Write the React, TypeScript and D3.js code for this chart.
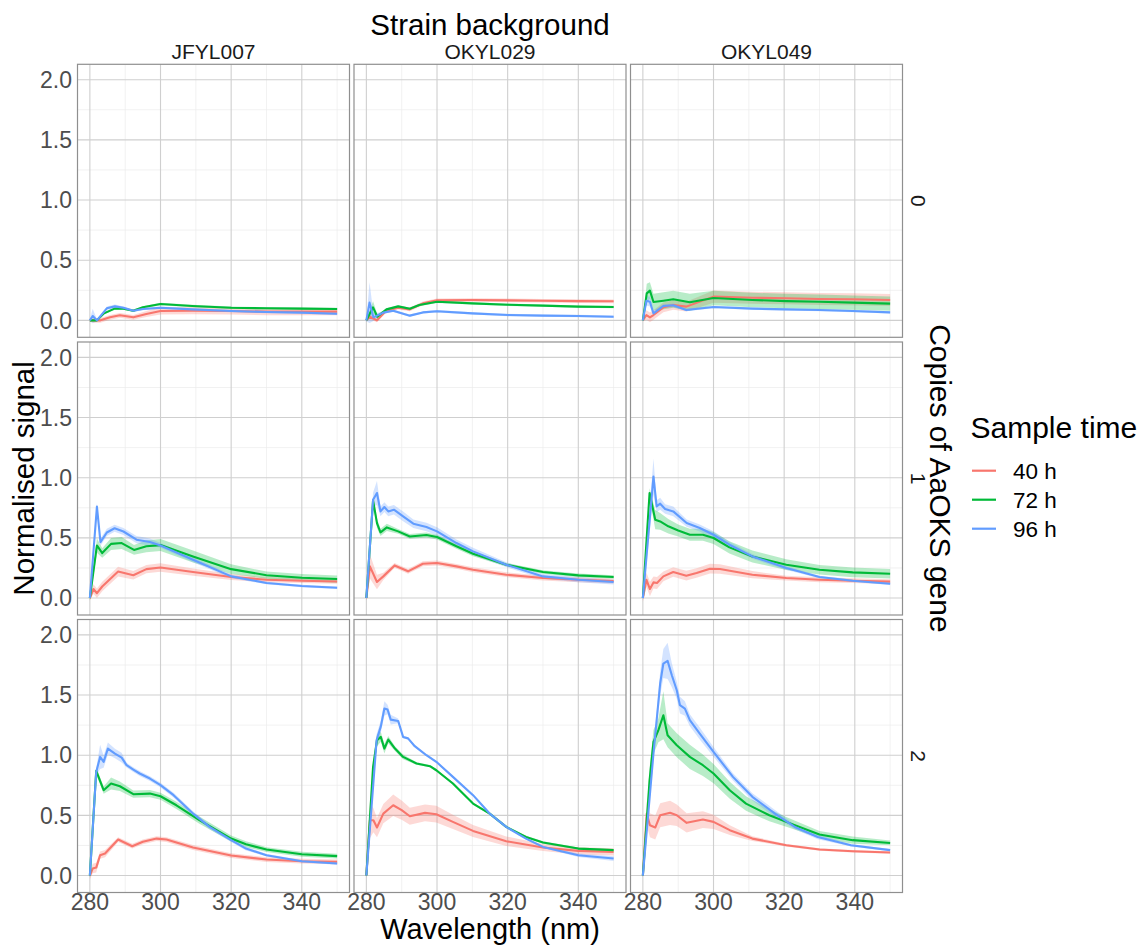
import React from "react";
import * as d3 from "d3";

// ---- data: [wavelength, mean, ribbon half-width] ----
const STRAINS = ["JFYL007", "OKYL029", "OKYL049"];
const COPIES = ["0", "1", "2"];
const TIMES = ["40 h", "72 h", "96 h"];
const COLORS = ["#F8766D", "#00BA38", "#619CFF"];
const X_TICKS = [280, 300, 320, 340];
const X_MINOR = [290, 310, 330, 350];
const Y_TICKS = [0, 0.5, 1.0, 1.5, 2.0];
const Y_MINOR = [0.25, 0.75, 1.25, 1.75];

const J0_40 = [[280,0,0.01],[281,0,0.02],[283,0,0.02],[285.7,0.025,0.02],[288.5,0.042,0.02],[292.3,0.025,0.02],[296,0.053,0.025],[300,0.078,0.03],[309,0.08,0.03],[320,0.078,0.03],[330,0.072,0.03],[340,0.072,0.03],[350,0.072,0.03]];
const J0_72 = [[280,0,0.01],[282,0,0.01],[284,0.058,0.01],[287,0.097,0.01],[289.5,0.097,0.01],[292.3,0.08,0.01],[295,0.108,0.01],[300,0.136,0.01],[309,0.119,0.01],[320,0.105,0.01],[330,0.1,0.01],[340,0.097,0.01],[350,0.094,0.01]];
const J0_96 = [[280,0,0.01],[280.8,0.036,0.06],[282,0,0.01],[284.8,0.1,0.015],[287.1,0.116,0.015],[289.5,0.105,0.01],[292.3,0.08,0.01],[295,0.094,0.01],[300,0.105,0.01],[309,0.091,0.01],[320,0.078,0.01],[330,0.069,0.01],[340,0.064,0.01],[350,0.055,0.01]];

const O29_0_40 = [[280,0,0.01],[281,0.03,0.02],[283,0,0.015],[285.6,0.08,0.015],[289,0.105,0.015],[292.3,0.091,0.015],[296,0.141,0.015],[300,0.166,0.015],[310,0.169,0.015],[320,0.166,0.015],[330,0.163,0.015],[340,0.16,0.015],[350,0.158,0.015]];
const O29_0_72 = [[280,0,0.01],[281.9,0.108,0.05],[283.1,0.03,0.02],[285.7,0.091,0.01],[289,0.116,0.01],[292.3,0.097,0.01],[295,0.127,0.01],[300,0.155,0.01],[310,0.141,0.01],[320,0.13,0.01],[330,0.122,0.01],[340,0.114,0.01],[350,0.111,0.01]];
const O29_0_96 = [[280,0,0.01],[280.9,0.147,0.17],[282,0.025,0.03],[284.8,0.064,0.01],[287.6,0.08,0.01],[292.3,0.039,0.01],[296,0.066,0.01],[300,0.075,0.01],[310,0.058,0.01],[320,0.044,0.01],[330,0.039,0.01],[340,0.036,0.01],[350,0.03,0.01]];

const O49_0_40 = [[280,0,0.01],[281,0.044,0.04],[282,0.025,0.04],[283,0.044,0.04],[285.8,0.108,0.04],[288.6,0.127,0.04],[292.3,0.114,0.04],[300,0.197,0.05],[311,0.188,0.05],[320.6,0.183,0.05],[330,0.177,0.05],[339.4,0.175,0.05],[350,0.169,0.05]];
const O49_0_72 = [[280,0,0.01],[281.1,0.224,0.08],[282,0.247,0.07],[283,0.152,0.07],[285.8,0.163,0.07],[288.6,0.175,0.07],[293.3,0.15,0.07],[300,0.186,0.06],[311,0.169,0.06],[320.6,0.16,0.06],[330,0.155,0.06],[339.4,0.147,0.06],[350,0.139,0.06]];
const O49_0_96 = [[280,0,0.01],[281,0.163,0.04],[282,0.155,0.04],[283,0.058,0.02],[285.8,0.119,0.015],[288.6,0.125,0.015],[292.3,0.086,0.01],[300,0.111,0.01],[311,0.097,0.01],[320.6,0.091,0.01],[330,0.086,0.01],[339.4,0.078,0.01],[350,0.066,0.01]];

const J1_40 = [[280,0,0.02],[281,0.075,0.04],[282,0.04,0.04],[283.5,0.096,0.04],[288,0.22,0.04],[292.3,0.19,0.035],[296,0.24,0.035],[300,0.254,0.035],[309.2,0.216,0.03],[320,0.175,0.025],[330,0.152,0.02],[340,0.144,0.02],[350,0.138,0.02]];
const J1_72 = [[280,0,0.02],[282,0.437,0.06],[283.5,0.374,0.04],[286,0.45,0.05],[289,0.457,0.05],[292.5,0.4,0.04],[296,0.43,0.05],[300,0.44,0.05],[309.2,0.346,0.05],[320,0.24,0.04],[330,0.19,0.03],[340,0.169,0.03],[350,0.158,0.03]];
const J1_96 = [[280,0,0.02],[282,0.76,0.03],[283,0.465,0.03],[284.8,0.545,0.03],[287,0.58,0.03],[289.5,0.553,0.03],[293.2,0.485,0.03],[297,0.465,0.03],[300,0.437,0.02],[309.2,0.318,0.02],[320,0.18,0.015],[330,0.125,0.01],[340,0.1,0.01],[350,0.086,0.01]];

const O29_1_40 = [[280,0,0.02],[281,0.263,0.1],[283,0.133,0.06],[284.8,0.18,0.03],[288,0.271,0.02],[291.8,0.222,0.02],[296,0.285,0.02],[300,0.291,0.02],[305.5,0.263,0.02],[310.2,0.235,0.02],[319.6,0.194,0.02],[330,0.166,0.02],[340,0.152,0.02],[350,0.141,0.02]];
const O29_1_72 = [[280,0,0.02],[281.9,0.812,0.03],[283,0.623,0.04],[284,0.546,0.03],[285.8,0.587,0.03],[289,0.554,0.02],[292.3,0.512,0.02],[297,0.524,0.02],[300,0.507,0.02],[305.5,0.43,0.02],[310.2,0.368,0.02],[319.6,0.277,0.015],[330,0.216,0.015],[340,0.188,0.015],[350,0.175,0.015]];
const O29_1_96 = [[280,0,0.02],[281.9,0.817,0.06],[283,0.873,0.1],[284,0.72,0.04],[285.1,0.756,0.04],[286.2,0.72,0.04],[287.8,0.734,0.04],[290.4,0.679,0.04],[293.3,0.618,0.035],[297,0.59,0.035],[300,0.554,0.035],[305.5,0.457,0.03],[310.2,0.388,0.03],[319.6,0.277,0.02],[330,0.18,0.02],[340,0.152,0.02],[350,0.133,0.02]];

const O49_1_40 = [[280,0,0.03],[281,0.152,0.06],[282,0.075,0.06],[283,0.13,0.05],[284,0.125,0.05],[285.8,0.18,0.04],[288.6,0.216,0.04],[292.3,0.186,0.04],[295.2,0.208,0.04],[299,0.244,0.04],[301.8,0.241,0.04],[311,0.194,0.03],[320.6,0.166,0.02],[330,0.152,0.02],[339.4,0.144,0.02],[350,0.136,0.02]];
const O49_1_72 = [[280,0,0.02],[281.9,0.873,0.04],[283.5,0.651,0.08],[284.9,0.637,0.07],[287.2,0.596,0.06],[290,0.562,0.05],[293.3,0.526,0.05],[297,0.526,0.05],[300,0.499,0.05],[304.5,0.421,0.05],[311,0.346,0.05],[320.6,0.277,0.045],[330,0.235,0.04],[339.4,0.213,0.04],[350,0.202,0.04]];
const O49_1_96 = [[280,0,0.02],[283,1.01,0.15],[283.9,0.762,0.05],[284.9,0.784,0.05],[286.3,0.74,0.04],[288.6,0.72,0.04],[292.4,0.623,0.03],[296.1,0.582,0.03],[300,0.526,0.03],[304.5,0.443,0.025],[311,0.346,0.02],[320.6,0.249,0.015],[330,0.175,0.01],[339.4,0.144,0.01],[350,0.119,0.01]];

const J2_40 = [[280,0,0.03],[280.8,0.058,0.04],[281.8,0.066,0.04],[282.9,0.169,0.03],[284.3,0.183,0.03],[288,0.299,0.02],[292,0.244,0.02],[295,0.28,0.02],[298.9,0.307,0.02],[301.7,0.299,0.02],[309.2,0.233,0.02],[320,0.166,0.02],[330,0.133,0.02],[340,0.119,0.02],[350,0.114,0.02]];
const J2_72 = [[280,0,0.02],[281.8,0.87,0.03],[283.9,0.709,0.03],[286,0.765,0.05],[288.5,0.742,0.04],[292.3,0.676,0.03],[297,0.681,0.03],[300,0.659,0.03],[304.5,0.584,0.03],[311,0.46,0.03],[320,0.307,0.025],[324.2,0.26,0.025],[330,0.216,0.02],[340,0.177,0.02],[350,0.161,0.02]];
const J2_96 = [[280,0,0.02],[281.8,0.861,0.03],[282.9,0.986,0.1],[283.9,0.945,0.05],[285.1,1.055,0.05],[287.1,1.014,0.04],[289,0.98,0.04],[290.4,0.917,0.02],[292.3,0.881,0.02],[294.1,0.848,0.02],[297,0.806,0.02],[300,0.751,0.02],[303.7,0.668,0.02],[309.2,0.515,0.02],[313.9,0.404,0.02],[320,0.294,0.015],[324.2,0.224,0.015],[330,0.169,0.01],[340,0.119,0.01],[350,0.1,0.01]];

const O29_2_40 = [[280,0,0.02],[281,0.46,0.15],[282,0.46,0.1],[283,0.399,0.08],[284.8,0.515,0.08],[287.6,0.584,0.09],[290,0.543,0.08],[292.3,0.493,0.07],[296.6,0.521,0.07],[299.8,0.51,0.07],[304.5,0.446,0.06],[310.2,0.371,0.05],[319.6,0.285,0.04],[330,0.233,0.03],[340,0.205,0.03],[350,0.197,0.03]];
const O29_2_72 = [[280,0,0.02],[281.9,0.903,0.04],[283,1.125,0.05],[284.1,1.152,0.04],[285.1,1.055,0.04],[286.2,1.13,0.03],[288.1,1.055,0.02],[290.4,0.986,0.02],[294.2,0.931,0.01],[298,0.909,0.01],[299.8,0.875,0.01],[304.5,0.765,0.01],[310.2,0.598,0.01],[314.9,0.515,0.01],[319.6,0.404,0.01],[325.2,0.321,0.01],[330,0.274,0.01],[340,0.224,0.01],[350,0.211,0.01]];
const O29_2_96 = [[280,0,0.02],[282.9,1.125,0.05],[284.1,1.24,0.05],[285.1,1.388,0.06],[286,1.38,0.04],[286.9,1.296,0.04],[289,1.285,0.02],[290.4,1.152,0.01],[291.8,1.14,0.01],[293.7,1.075,0.01],[297,1.0,0.01],[299.8,0.945,0.01],[304.5,0.82,0.01],[310.2,0.668,0.01],[314.9,0.515,0.01],[319.6,0.404,0.01],[325.2,0.307,0.01],[330,0.238,0.01],[340,0.169,0.015],[350,0.141,0.02]];

const O49_2_40 = [[280,0,0.02],[281.1,0.515,0.1],[282,0.418,0.1],[283.5,0.399,0.1],[284.9,0.501,0.1],[287.7,0.521,0.1],[289.6,0.501,0.09],[292.4,0.438,0.08],[297,0.465,0.07],[300,0.446,0.06],[304.6,0.377,0.04],[311,0.307,0.02],[320.6,0.252,0.01],[330,0.216,0.01],[339.4,0.202,0.01],[350,0.191,0.01]];
const O49_2_72 = [[280,0,0.02],[281.9,0.792,0.1],[283,1.11,0.1],[284.4,1.208,0.1],[285.8,1.332,0.2],[287,1.166,0.1],[289.6,1.083,0.1],[293.3,0.986,0.1],[297,0.917,0.09],[300,0.848,0.08],[304.6,0.709,0.07],[309.2,0.598,0.06],[315.8,0.501,0.05],[320.6,0.446,0.04],[330,0.341,0.03],[339.4,0.294,0.03],[350,0.271,0.02]];
const O49_2_96 = [[280,0,0.02],[283,1.014,0.05],[284.9,1.596,0.1],[285.8,1.762,0.12],[287,1.784,0.15],[288.2,1.665,0.1],[289.6,1.54,0.07],[290.5,1.416,0.07],[291.9,1.388,0.06],[293.3,1.291,0.05],[296.1,1.18,0.05],[300,1.028,0.04],[305.5,0.82,0.03],[311,0.654,0.03],[317.4,0.515,0.03],[323,0.404,0.02],[329.5,0.321,0.02],[338.9,0.252,0.01],[350,0.211,0.01]];

// rows = copies, columns = strains
const PANELS = [
  [[J0_40, J0_72, J0_96], [O29_0_40, O29_0_72, O29_0_96], [O49_0_40, O49_0_72, O49_0_96]],
  [[J1_40, J1_72, J1_96], [O29_1_40, O29_1_72, O29_1_96], [O49_1_40, O49_1_72, O49_1_96]],
  [[J2_40, J2_72, J2_96], [O29_2_40, O29_2_72, O29_2_96], [O49_2_40, O49_2_72, O49_2_96]],
];

const FONT = "'Liberation Sans', Arial, Helvetica, sans-serif";
const W = 1138, H = 945;
const PW = 272, PH = 273;
const LEFTS = [77.5, 354, 630.5];
const TOPS = [64.3, 342, 619.5];

const x = d3.scaleLinear().domain([276.5, 353.5]).range([0, PW]);
const y = d3.scaleLinear().domain([-0.141, 2.128]).range([PH, 0]);

const line = d3.line<number[]>().x((d) => x(d[0])).y((d) => y(d[1]));
const area = d3.area<number[]>().x((d) => x(d[0])).y0((d) => y(d[1] - d[2])).y1((d) => y(d[1] + d[2]));

function Panel({ series, left, top }: { series: number[][][]; left: number; top: number }) {
  return (
    <g transform={`translate(${left},${top})`}>
      <rect x={0} y={0} width={PW} height={PH} fill="#ffffff" />
      {X_MINOR.map((v) => (
        <line key={"xm" + v} x1={x(v)} x2={x(v)} y1={0} y2={PH} stroke="#ebebeb" strokeWidth={0.7} />
      ))}
      {Y_MINOR.map((v) => (
        <line key={"ym" + v} x1={0} x2={PW} y1={y(v)} y2={y(v)} stroke="#ebebeb" strokeWidth={0.7} />
      ))}
      {X_TICKS.map((v) => (
        <line key={"xM" + v} x1={x(v)} x2={x(v)} y1={0} y2={PH} stroke="#cfcfcf" strokeWidth={1.1} />
      ))}
      {Y_TICKS.map((v) => (
        <line key={"yM" + v} x1={0} x2={PW} y1={y(v)} y2={y(v)} stroke="#cfcfcf" strokeWidth={1.1} />
      ))}
      {series.map((s, i) => (
        <path key={"a" + i} d={area(s) || ""} fill={COLORS[i]} fillOpacity={0.28} stroke="none" />
      ))}
      {series.map((s, i) => (
        <path key={"l" + i} d={line(s) || ""} fill="none" stroke={COLORS[i]} strokeWidth={2.1} strokeLinejoin="round" />
      ))}
      <rect x={0} y={0} width={PW} height={PH} fill="none" stroke="#8f8f8f" strokeWidth={1.2} />
    </g>
  );
}

export default function App() {
  const gridRight = LEFTS[2] + PW;
  const gridCenterX = (LEFTS[0] + gridRight) / 2;
  const gridCenterY = (TOPS[0] + TOPS[2] + PH) / 2;
  return (
    <svg width={W} height={H} style={{ position: "absolute", left: 0, top: 0, background: "#fff" }} fontFamily={FONT}>
      <rect width={W} height={H} fill="#fff" />
      {PANELS.map((row, r) =>
        row.map((series, c) => <Panel key={r + "-" + c} series={series} left={LEFTS[c]} top={TOPS[r]} />)
      )}
      {/* column strips */}
      {STRAINS.map((s, c) => (
        <text key={s} x={LEFTS[c] + PW / 2} y={58.5} textAnchor="middle" fontSize={21} fill="#1a1a1a">{s}</text>
      ))}
      <text x={gridCenterX} y={35} textAnchor="middle" fontSize={29.5} fill="#000">Strain background</text>
      {/* row strips */}
      {COPIES.map((s, r) => (
        <text key={s} transform={`translate(${911},${TOPS[r] + PH / 2}) rotate(90)`} textAnchor="middle" fontSize={21} fill="#1a1a1a">{s}</text>
      ))}
      <text transform={`translate(${930},${gridCenterY}) rotate(90)`} textAnchor="middle" fontSize={30} fill="#000">Copies of AaOKS gene</text>
      {/* y axis tick labels */}
      {TOPS.map((t, r) =>
        Y_TICKS.map((v) => (
          <text key={r + "y" + v} x={72} y={t + y(v)} dy="0.36em" textAnchor="end" fontSize={23} fill="#4d4d4d">{d3.format(".1f")(v)}</text>
        ))
      )}
      {/* x axis tick labels */}
      {LEFTS.map((l, c) =>
        X_TICKS.map((v) => (
          <text key={c + "x" + v} x={l + x(v)} y={910} textAnchor="middle" fontSize={23} fill="#4d4d4d">{v}</text>
        ))
      )}
      <text x={gridCenterX} y={938.5} textAnchor="middle" fontSize={29} fill="#000">Wavelength (nm)</text>
      <text transform={`translate(${34},${gridCenterY}) rotate(-90)`} textAnchor="middle" fontSize={29.5} fill="#000">Normalised signal</text>
      {/* legend */}
      <text x={970.5} y={438} fontSize={30} fill="#000">Sample time</text>
      {TIMES.map((t, i) => (
        <g key={t} transform={`translate(0,${470.7 + i * 29})`}>
          <line x1={972} x2={996} y1={0} y2={0} stroke={COLORS[i]} strokeWidth={2.2} />
          <text x={1013} y={0} dy="0.36em" fontSize={22.5} fill="#000">{t}</text>
        </g>
      ))}
    </svg>
  );
}
